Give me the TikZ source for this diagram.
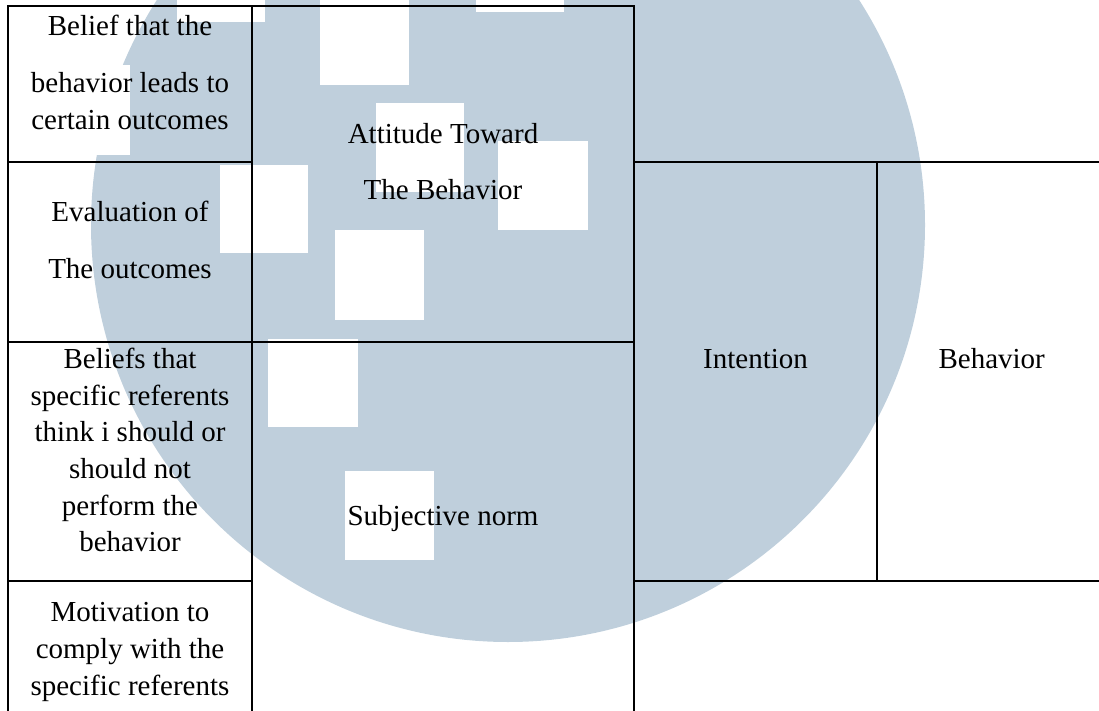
\documentclass[tikz,border=0pt]{standalone}
\usepackage{fontspec}
\setmainfont{Liberation Serif}
\definecolor{wmblue}{RGB}{191,207,220}
\tikzset{
  tbl/.style={line width=1.8pt, black, line cap=rect},
  cell/.style={inner sep=0pt, anchor=base, font=\fontsize{29}{36.7}\selectfont},
  pix/.style={fill=white},
}
\newcommand{\cellrows}[1]{\begin{tabular}[t]{@{}c@{}}#1\end{tabular}}
\begin{document}
\begin{tikzpicture}[x=1pt,y=-1pt]
\useasboundingbox (0,0) rectangle (1099,711);
% watermark
\begin{scope}
\clip (0,0) rectangle (1099,711);
\fill[wmblue] (508,225) circle[radius=417pt];
\fill[pix] (320,-5) rectangle (409,85);
\fill[pix] (177,-5) rectangle (265,22);
\fill[pix] (476,-5) rectangle (564,12);
\fill[pix] (376,103) rectangle (464,192);
\fill[pix] (498,141) rectangle (588,230);
\fill[pix] (335,230) rectangle (424,320);
\fill[pix] (220,165) rectangle (308,253);
\fill[pix] (268,339) rectangle (358,427);
\fill[pix] (345,471) rectangle (434,560);
\fill[pix] (42,65) rectangle (130,155);
\end{scope}
% table rules
\draw[tbl] (8,6) -- (634,6);
\draw[tbl] (8,6) -- (8,712);
\draw[tbl] (251.7,6) -- (251.7,712);
\draw[tbl] (633.7,6) -- (633.7,712);
\draw[tbl] (8,162.3) -- (251.7,162.3);
\draw[tbl] (633.7,162.3) -- (1100,162.3);
\draw[tbl] (8,341.7) -- (633.7,341.7);
\draw[tbl] (8,580.8) -- (251.7,580.8);
\draw[tbl] (633.7,580.8) -- (1100,580.8);
\draw[tbl] (877,162.3) -- (877,580.8);
% texts
\node[cell] (belief) at (130,36) {\cellrows{Belief that the\\[20pt] behavior leads to\\ certain outcomes}};
\node[cell] (eval) at (130,221.7) {\cellrows{Evaluation of\\[20pt] The outcomes}};
\node[cell] (beliefs) at (130,368.3) {\cellrows{Beliefs that\\ specific referents\\ think i should or\\ should not\\ perform the\\ behavior}};
\node[cell] (motiv) at (130,621.7) {\cellrows{Motivation to\\ comply with the\\ specific referents}};
\node[cell] (attitude) at (443,143.3) {\cellrows{Attitude Toward\\[20pt] The Behavior}};
\node[cell] (subj) at (443,525) {Subjective norm};
\node[cell] (intent) at (755.5,368.3) {Intention};
\node[cell] (behav) at (991.7,368.3) {Behavior};
\end{tikzpicture}
\end{document}
